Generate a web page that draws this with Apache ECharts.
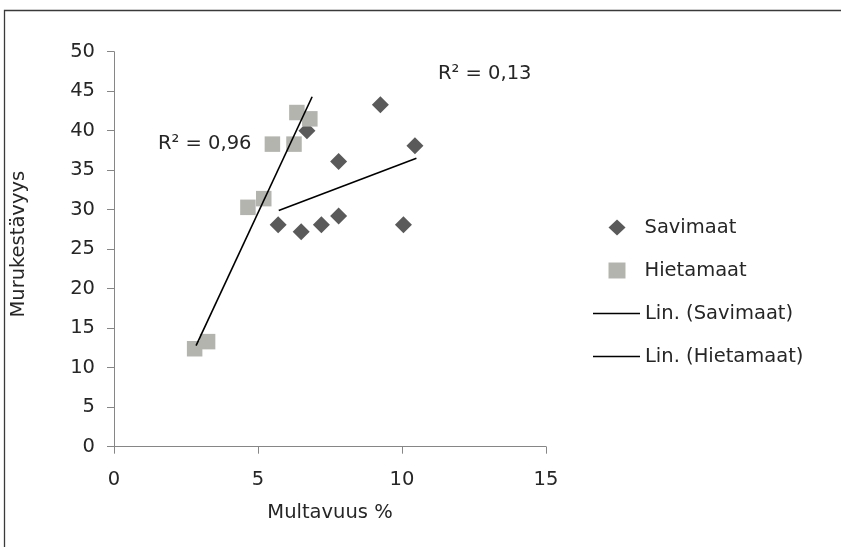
<!DOCTYPE html>
<html>
<head>
<meta charset="utf-8">
<script src="https://cdn.jsdelivr.net/npm/echarts@6/dist/echarts.min.js"></script>
<style>
html,body{margin:0;padding:0;background:#fff;}
#main{width:841px;height:547px;}
</style>
</head>
<body>
<div id="main"></div>
<script>
// Data
var savX = [5.7, 6.5, 6.7, 7.2, 7.8, 7.8, 9.25, 10.05, 10.45];
var savY = [28.1, 27.2, 40.0, 28.1, 29.2, 36.1, 43.3, 28.1, 38.1];
var hieX = [2.8, 3.25, 4.65, 5.2, 5.5, 6.25, 6.35, 6.8];
var hieY = [12.4, 13.3, 30.3, 31.4, 38.3, 38.3, 42.3, 41.5];
// Trend line endpoints (as drawn in the reference)
var savTrendX = [5.72, 10.5];
var savTrendY = [29.9, 36.5];
var hieTrendX = [2.85, 6.88];
var hieTrendY = [12.8, 44.3];
var seriesNames = ['Savimaat', 'Hietamaat', 'Lin. (Savimaat)', 'Lin. (Hietamaat)'];
var r2Labels = ['R\u00B2 = 0,96', 'R\u00B2 = 0,13'];
var xTitle = 'Multavuus %';
var yTitle = 'Murukest\u00E4vyys';

function pairs(xs, ys) { return xs.map(function (x, i) { return [x, ys[i]]; }); }

var FONT = 'DejaVu Sans';
var FS = 19.5;
var TXT = '#262626';
var chart = echarts.init(document.getElementById('main'));
chart.setOption({
  animation: false,
  backgroundColor: '#fff',
  textStyle: { fontFamily: FONT },
  grid: { left: 114, right: 295, top: 51.7, bottom: 100.3, containLabel: false },
  xAxis: {
    type: 'value', min: 0, max: 15, interval: 5,
    name: xTitle, nameLocation: 'middle', nameGap: 56,
    nameTextStyle: { fontFamily: FONT, fontSize: FS, color: TXT },
    axisLine: { show: true, onZero: false, lineStyle: { color: '#868686', width: 1 } },
    axisTick: { show: true, inside: false, length: 7, lineStyle: { color: '#868686' } },
    axisLabel: { fontFamily: FONT, fontSize: FS, color: TXT, margin: 23 },
    splitLine: { show: false }
  },
  yAxis: {
    type: 'value', min: 0, max: 50, interval: 5,
    name: yTitle, nameLocation: 'middle', nameGap: 85, nameRotate: 90,
    nameTextStyle: { fontFamily: FONT, fontSize: FS, color: TXT, padding: [0, 0, 0, 10] },
    axisLine: { show: true, onZero: false, lineStyle: { color: '#868686', width: 1 } },
    axisTick: { show: true, inside: false, length: 7, lineStyle: { color: '#868686' } },
    axisLabel: { fontFamily: FONT, fontSize: FS, color: TXT, margin: 19 },
    splitLine: { show: false }
  },
  legend: [
    {
      orient: 'vertical', left: 608.5, top: 217.5,
      itemWidth: 17, itemHeight: 16, itemGap: 23,
      padding: 0,
      textStyle: { fontFamily: FONT, fontSize: FS, color: TXT, lineHeight: 20, padding: [0, 0, 0, 14] },
      data: [
        { name: seriesNames[0], icon: 'diamond' },
        { name: seriesNames[1], icon: 'rect' }
      ]
    },
    {
      orient: 'vertical', left: 593, top: 303.5,
      itemWidth: 47, itemHeight: 1.5, itemGap: 23,
      padding: 0,
      itemStyle: { color: '#000' },
      textStyle: { fontFamily: FONT, fontSize: FS, color: TXT, lineHeight: 20 },
      data: [
        { name: seriesNames[2], icon: 'rect' },
        { name: seriesNames[3], icon: 'rect' }
      ]
    }
  ],
  graphic: [
    { type: 'rect', z: -10, silent: true, shape: { x: 4.5, y: 10.5, width: 900, height: 700 },
      style: { fill: 'none', stroke: '#3a3a3a', lineWidth: 1.3 } },
    { type: 'text', left: 158, top: 134, style: { text: r2Labels[0], font: FS + 'px "DejaVu Sans"', fill: TXT } },
    { type: 'text', left: 438, top: 64, style: { text: r2Labels[1], font: FS + 'px "DejaVu Sans"', fill: TXT } }
  ],
  series: [
    { name: seriesNames[0], type: 'scatter', symbol: 'diamond', symbolSize: 17,
      itemStyle: { color: '#5a5a5a', opacity: 1 }, data: pairs(savX, savY), z: 2 },
    { name: seriesNames[1], type: 'scatter', symbol: 'rect', symbolSize: 15.5,
      itemStyle: { color: '#b4b4ae', opacity: 1 }, data: pairs(hieX, hieY), z: 3 },
    { name: seriesNames[2], type: 'line', symbol: 'none', showSymbol: false,
      lineStyle: { color: '#000', width: 1.6 }, itemStyle: { color: '#000' },
      data: pairs(savTrendX, savTrendY), z: 4 },
    { name: seriesNames[3], type: 'line', symbol: 'none', showSymbol: false,
      lineStyle: { color: '#000', width: 1.6 }, itemStyle: { color: '#000' },
      data: pairs(hieTrendX, hieTrendY), z: 5 }
  ]
});
</script>
</body>
</html>
